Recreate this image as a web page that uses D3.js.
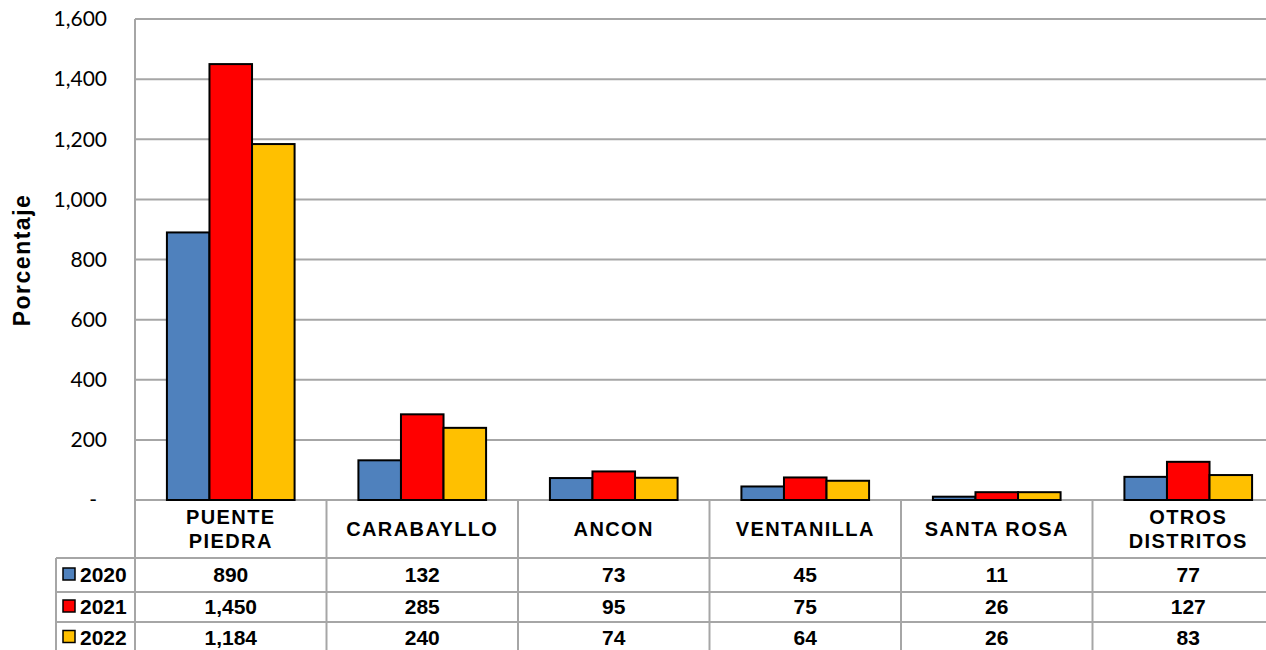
<!DOCTYPE html>
<html>
<head>
<meta charset="utf-8">
<script src="https://cdn.jsdelivr.net/npm/d3@7"></script>
<style>
  body { margin: 0; background: #fff; }
  svg { display: block; }
</style>
</head>
<body>
<div id="chart"></div>
<script>
var categories = ["PUENTE\nPIEDRA", "CARABAYLLO", "ANCON", "VENTANILLA", "SANTA ROSA", "OTROS\nDISTRITOS"];
var years = ["2020", "2021", "2022"];
var values2020 = [890, 132, 73, 45, 11, 77];
var values2021 = [1450, 285, 95, 75, 26, 127];
var values2022 = [1184, 240, 74, 64, 26, 83];
var colors = ["#4f81bd", "#ff0000", "#ffc000"];
var yTicks = [0, 200, 400, 600, 800, 1000, 1200, 1400, 1600];

var series = [values2020, values2021, values2022];

var width = 1266, height = 650;
var plotLeft = 135, plotRight = 1284, plotTop = 19, plotBottom = 500;
var rowTops = [558, 592, 622, 653];
var keyLeft = 56;
var gridColor = "#a6a6a6";
var tableFont = "'Liberation Sans', Arial, sans-serif";

var svg = d3.select("#chart").append("svg")
    .attr("width", width)
    .attr("height", height);

var x = d3.scaleBand()
    .domain(d3.range(categories.length))
    .range([plotLeft, plotRight]);

var xs = d3.scaleBand()
    .domain(d3.range(years.length))
    .range([0, x.bandwidth()])
    .paddingOuter(0.75)
    .paddingInner(0);

var y = d3.scaleLinear()
    .domain([0, 1600])
    .range([plotBottom, plotTop]);

// gridlines
svg.append("g").selectAll("line")
    .data(yTicks)
  .enter().append("line")
    .attr("x1", plotLeft).attr("x2", plotRight)
    .attr("y1", function(d) { return y(d); })
    .attr("y2", function(d) { return y(d); })
    .style("stroke", gridColor)
    .style("stroke-width", 2);

// y axis line
svg.append("line")
    .attr("x1", plotLeft).attr("x2", plotLeft)
    .attr("y1", plotTop).attr("y2", plotBottom)
    .style("stroke", gridColor)
    .style("stroke-width", 2);

// tick labels
svg.append("g").selectAll("text")
    .data(yTicks)
  .enter().append("text")
    .attr("x", function(d) { return d === 0 ? 97 : 107; })
    .attr("y", function(d) { return y(d); })
    .attr("dy", "0.35em")
    .attr("text-anchor", "end")
    .style("font-family", "Lato, 'Open Sans', sans-serif")
    .style("font-size", "21px")
    .style("fill", "#000")
    .text(function(d) { return d === 0 ? "-" : d3.format(",")(d); });

svg.append("text")
    .attr("transform", "translate(30," + 260 + ") rotate(-90)")
    .attr("text-anchor", "middle")
    .style("font-family", tableFont)
    .style("font-weight", "bold")
    .style("font-size", "23px")
    .style("letter-spacing", "1.5px")
    .text("Porcentaje");

// bars
var groups = svg.append("g").selectAll("g")
    .data(categories)
  .enter().append("g")
    .attr("transform", function(d, i) { return "translate(" + x(i) + ",0)"; });

groups.selectAll("rect")
    .data(function(d, i) { return series.map(function(s, j) { return {j: j, v: s[i]}; }); })
  .enter().append("rect")
    .attr("x", function(d) { return xs(d.j); })
    .attr("width", xs.bandwidth())
    .attr("y", function(d) { return y(d.v); })
    .attr("height", function(d) { return y(0) - y(d.v); })
    .style("fill", function(d) { return colors[d.j]; })
    .style("stroke", "#000")
    .style("stroke-width", 2);

// data table
var table = svg.append("g");
var lineStyle = function(sel) { sel.style("stroke", gridColor).style("stroke-width", 2); };

rowTops.forEach(function(ry) {
  table.append("line")
      .attr("x1", keyLeft).attr("x2", plotRight)
      .attr("y1", ry).attr("y2", ry)
      .call(lineStyle);
});
d3.range(categories.length + 1).forEach(function(i) {
  var vx = i < categories.length ? x(i) : plotRight;
  table.append("line")
      .attr("x1", vx).attr("x2", vx)
      .attr("y1", plotBottom).attr("y2", height)
      .call(lineStyle);
});
table.append("line")
    .attr("x1", keyLeft).attr("x2", keyLeft)
    .attr("y1", rowTops[0]).attr("y2", height)
    .call(lineStyle);

// header labels
categories.forEach(function(c, i) {
  var lines = c.split("\n");
  var cy = (plotBottom + rowTops[0]) / 2;
  var t = table.append("text")
      .attr("text-anchor", "middle")
      .style("font-family", tableFont)
      .style("font-weight", "bold")
      .style("font-size", "20px")
      .style("letter-spacing", "1.4px");
  lines.forEach(function(l, k) {
    t.append("tspan")
        .attr("x", x(i) + x.bandwidth() / 2)
        .attr("y", cy + (k - (lines.length - 1) / 2) * 24.5)
        .attr("dy", "0.35em")
        .text(l);
  });
});

// rows
years.forEach(function(yr, j) {
  var cy = (rowTops[j] + rowTops[j + 1]) / 2;
  table.append("rect")
      .attr("x", 63).attr("y", cy - 7)
      .attr("width", 12).attr("height", 12)
      .style("fill", colors[j])
      .style("stroke", "#000")
      .style("stroke-width", 1.5);
  table.append("text")
      .attr("x", 80).attr("y", cy)
      .attr("dy", "0.35em")
      .style("font-family", tableFont)
      .style("font-weight", "bold")
      .style("font-size", "21px")
      .text(yr);
  series[j].forEach(function(v, i) {
    table.append("text")
        .attr("x", x(i) + x.bandwidth() / 2)
        .attr("y", cy)
        .attr("dy", "0.35em")
        .attr("text-anchor", "middle")
        .style("font-family", tableFont)
        .style("font-weight", "bold")
        .style("font-size", "21px")
        .text(d3.format(",")(v));
  });
});
</script>
</body>
</html>
